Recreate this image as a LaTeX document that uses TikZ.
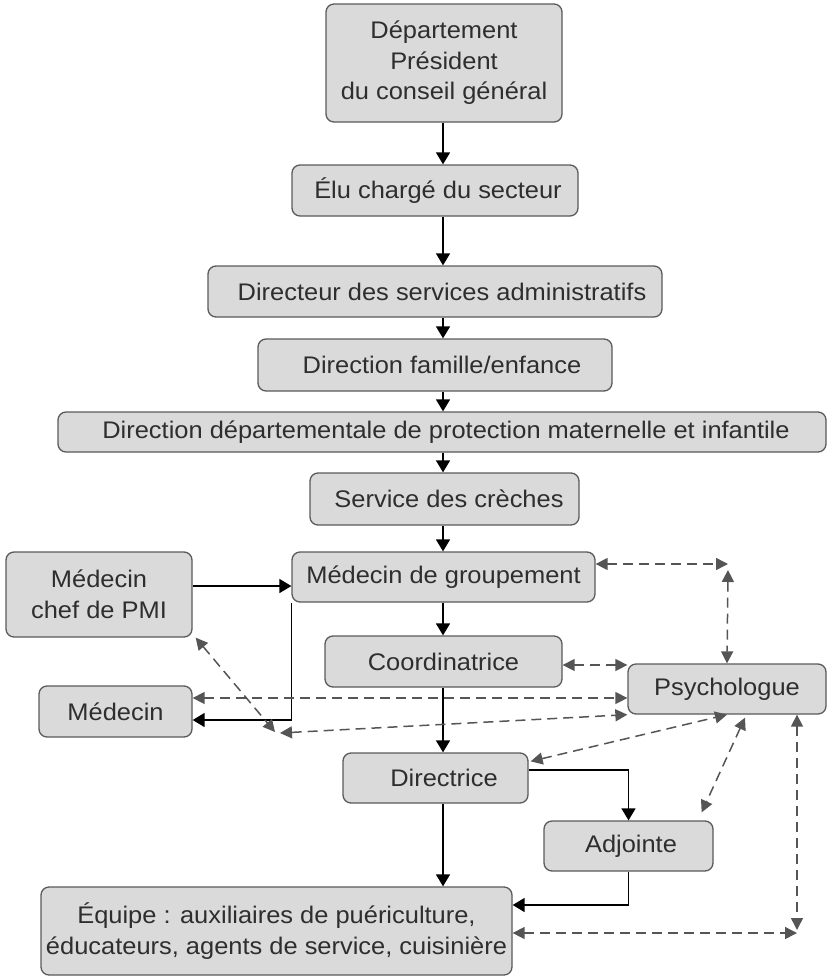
\documentclass[tikz,border=0pt]{standalone}
\usepackage{fontspec}
\setmainfont{Liberation Sans}[FakeStretch=1.06]
\usetikzlibrary{arrows.meta}
\definecolor{boxfill}{HTML}{DADADA}
\definecolor{boxdraw}{HTML}{5A5A5A}
\definecolor{txt}{HTML}{2E2E2E}
\definecolor{dashcol}{HTML}{555555}
\begin{document}
\begin{tikzpicture}[x=1pt,y=-1pt,
  box/.style={draw=boxdraw, fill=boxfill, rounded corners=8pt, line width=1.3pt,
    text=txt, align=center, inner sep=0pt, font=\fontsize{24}{30.5}\selectfont},
  solidarr/.style={-{Triangle[length=12pt,width=14pt]}, line width=1.5pt, black},
  dasharr/.style={{Triangle[length=12pt,width=12pt]}-{Triangle[length=12pt,width=12pt]},
    line width=1.5pt, dashcol, dash pattern=on 10pt off 6pt}]
\useasboundingbox (0,0) rectangle (827,977);
\node[box, minimum width=236pt, minimum height=118pt] (dep) at (444,63) {Département\\Président\\du conseil général};
\node[box, minimum width=286pt, minimum height=51pt] (elu) at (435,190.5) {\hspace*{6pt}Élu chargé du secteur};
\node[box, minimum width=454pt, minimum height=51pt] (dir) at (435,291.5) {\hspace*{14pt}Directeur des services administratifs};
\node[box, minimum width=354pt, minimum height=52pt] (fam) at (435,365) {\hspace*{14pt}Direction famille/enfance};
\node[box, minimum width=768pt, minimum height=40pt] (dpmi) at (442,432) {\hspace*{8pt}Direction départementale de protection maternelle et infantile};
\node[box, minimum width=269pt, minimum height=52pt] (crech) at (444.5,499) {\hspace*{9pt}Service des crèches};
\node[box, minimum width=303pt, minimum height=50pt] (grp) at (443.5,577) {Médecin de groupement};
\node[box, minimum width=186pt, minimum height=85pt] (pmi) at (99,594.5) {Médecin\\chef de PMI};
\node[box, minimum width=237pt, minimum height=51pt] (coord) at (443.5,661.5) {Coordinatrice};
\node[box, minimum width=153pt, minimum height=51pt] (med) at (115.5,711.5) {Médecin};
\node[box, minimum width=198pt, minimum height=50pt] (psy) at (727,689) {Psychologue};
\node[box, minimum width=185pt, minimum height=50pt] (dirc) at (435.5,778) {\hspace*{17pt}Directrice};
\node[box, minimum width=169pt, minimum height=50pt] (adj) at (628.5,846) {\hspace*{5pt}Adjointe};
\node[box, minimum width=471pt, minimum height=88pt] (eq) at (276.5,931) {Équipe : auxiliaires de puériculture,\\éducateurs, agents de service, cuisinière};
\coordinate (ax) at (443,0);
\coordinate (c1) at (728,564);
\coordinate (c2) at (728,570);
\coordinate (c3) at (280,733);
\coordinate (c4) at (275,732);
\coordinate (c5) at (797,930);
\coordinate (c6) at (797,933);
% solid arrows
\draw[solidarr] (dep.south -| ax) -- (elu.north -| ax);
\draw[solidarr] (elu.south -| ax) -- (dir.north -| ax);
\draw[solidarr] (dir.south -| ax) -- (fam.north -| ax);
\draw[solidarr] (fam.south -| ax) -- (dpmi.north -| ax);
\draw[solidarr] (dpmi.south -| ax) -- (crech.north -| ax);
\draw[solidarr] (crech.south -| ax) -- (grp.north -| ax);
\draw[solidarr] (grp.south -| ax) -- (coord.north -| ax);
\draw[solidarr] (coord.south -| ax) -- (dirc.north -| ax);
\draw[solidarr] (dirc.south -| ax) -- (eq.north -| ax);
\draw[solidarr] ([yshift=8.5pt]pmi.east) -- ([yshift=8.5pt]pmi.east -| grp.west);
\draw[solidarr] (grp.south west) |- ([yshift=-8.5pt]med.east);
\draw[solidarr] ([yshift=8pt]dirc.east) -| (adj.north);
\draw[solidarr] (adj.south) |- ([yshift=26pt]eq.east);
% dashed arrows
\draw[dasharr] ([yshift=13pt]grp.east) -- (c1);
\draw[dasharr] (c2) -- (psy.north);
\draw[dasharr] ([yshift=-3.5pt]coord.east) -- ([yshift=-3.5pt]coord.east -| psy.west);
\draw[dasharr] ([yshift=13.5pt]med.east) -- ([yshift=13.5pt]med.east -| psy.west);
\draw[dasharr] (c3) -- (psy.south west);
\draw[dasharr] ([xshift=3pt]pmi.south east) -- (c4);
\draw[dasharr] ([xshift=2pt,yshift=-9pt]dirc.north east) -- (psy.south);
\draw[dasharr] ([xshift=18pt,yshift=-3pt]psy.south) -- ([xshift=-12pt,yshift=8pt]adj.north east);
\draw[dasharr] ([xshift=70pt]psy.south) -- (c5);
\draw[dasharr] ([yshift=-2pt]eq.east) -- (c6);
\end{tikzpicture}
\end{document}
